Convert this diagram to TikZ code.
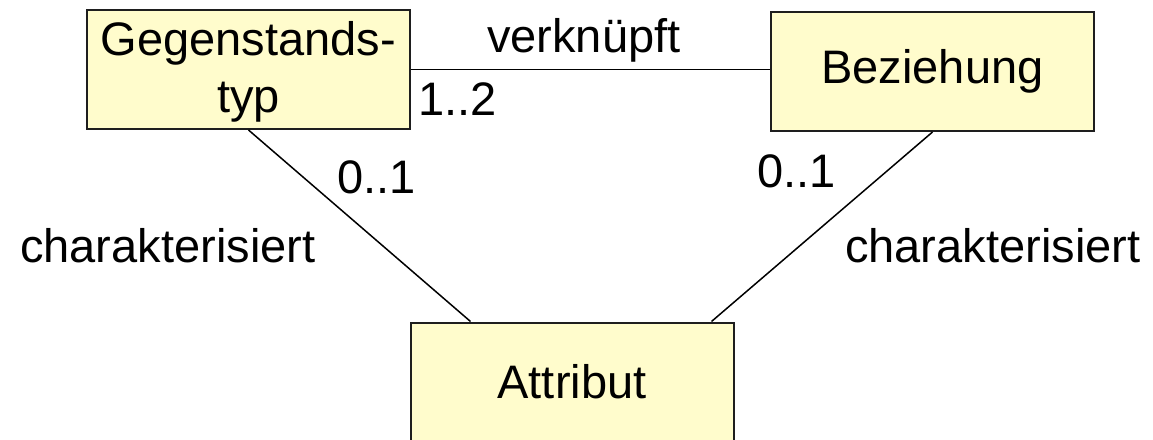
\documentclass[tikz,border=0pt]{standalone}
\usepackage{fontspec}
\setmainfont{Liberation Sans}
\definecolor{boxfill}{HTML}{FFFCCC}
\definecolor{boxline}{HTML}{1E1E1E}
\begin{document}
\begin{tikzpicture}[x=1pt,y=-1pt,
  entity/.style={draw=boxline, line width=2pt, fill=boxfill, minimum width=323pt, minimum height=119pt, inner sep=0pt, align=center, font=\fontsize{47}{57}\selectfont},
  lbl/.style={inner sep=0pt, anchor=base west, font=\fontsize{47}{47}\selectfont},
  boxtext/.style={inner sep=0pt, anchor=base, font=\fontsize{47}{47}\selectfont},
  conn/.style={line width=1.5pt, black}]
\useasboundingbox (0,0) rectangle (1153,439);
\clip (0,0) rectangle (1153,439);
\fill[white] (0,0) rectangle (1153,439);
\node[entity] (gt) at (248.5,69.5) {};
\node[boxtext] (gt1) at (248.5,55) {Gegenstands-};
\node[boxtext] (gt2) at (248.5,112) {typ};
\node[entity] (bz) at (932.5,71.5) {Beziehung};
\node[entity] (at) at (572,382) {Attribut};
\draw[conn] (gt.east) -- (gt.east -| bz.west);
\draw[conn] (gt.south) -- ([xshift=61pt]at.north west);
\draw[conn] (bz.south) -- ([xshift=-23pt]at.north east);
\node[lbl] (l1) at (487,52) {verknüpft};
\node[lbl] (l2) at (418,115) {1..2};
\node[lbl] (l3) at (337,193) {0..1};
\node[lbl] (l4) at (20,262) {charakterisiert};
\node[lbl] (l5) at (757,187) {0..1};
\node[lbl] (l6) at (845,262) {charakterisiert};
\end{tikzpicture}
\end{document}
